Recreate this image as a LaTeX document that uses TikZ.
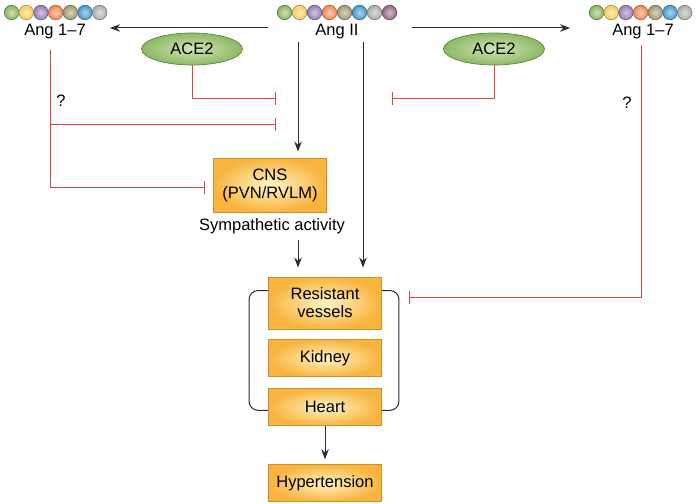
\documentclass[tikz,border=0pt]{standalone}
\usepackage{fontspec}
\setmainfont{Liberation Sans}
\usetikzlibrary{positioning,shapes.geometric,arrows.meta}
\definecolor{bGreen}{HTML}{86B55A}
\definecolor{bYellow}{HTML}{F5CC5C}
\definecolor{bPurple}{HTML}{937DB5}
\definecolor{bOrange}{HTML}{EE8650}
\definecolor{bTan}{HTML}{A39670}
\definecolor{bBlue}{HTML}{4696CB}
\definecolor{bGray}{HTML}{ABABAB}
\definecolor{bMauve}{HTML}{946686}
\definecolor{inhred}{HTML}{E2424B}
\definecolor{boxin}{HTML}{FFF4C4}
\definecolor{boxout}{HTML}{F8B43E}
\definecolor{boxedge}{HTML}{C8912F}
\definecolor{enzin}{HTML}{D2E5B6}
\definecolor{enzout}{HTML}{8CB864}
\definecolor{enzedge}{HTML}{5A8939}
\definecolor{lineclr}{HTML}{2B2B2B}
\tikzset{
	bead/.style={circle, inner sep=0pt, minimum size=14.6pt, line width=0.5pt},
	organ/.style={draw=boxedge, line width=0.9pt, inner color=boxin, outer color=boxout, minimum width=113pt, align=center},
	enzyme/.style={ellipse, draw=enzedge, line width=0.7pt, inner color=enzin, outer color=enzout, minimum width=101pt, minimum height=32pt},
	act/.style={draw=lineclr, line width=1pt, -{Stealth[length=10pt,width=7.5pt]}},
	inh/.style={draw=inhred, line width=1pt, -{Bar[width=13pt]}},
	sideloop/.style={draw=lineclr, line width=1pt, rounded corners=9pt},
}

\begin{document}
\begin{tikzpicture}[x=1pt, y=-1pt, font=\fontsize{16.5}{18}\selectfont]
	\useasboundingbox (0,0) rectangle (700,503);
	
	\foreach \c [count=\i from 0] in {bGreen,bYellow,bPurple,bOrange,bTan,bBlue,bGray}
		\node[bead, inner color=\c!40!white, outer color=\c, draw=\c!65!black] (l\i) at (11.5+14.7*\i,12.5) {};
	\foreach \c [count=\i from 0] in {bGreen,bYellow,bPurple,bOrange,bTan,bBlue,bGray,bMauve}
		\node[bead, inner color=\c!40!white, outer color=\c, draw=\c!65!black] (m\i) at (284.5+15*\i,12.5) {};
	\foreach \c [count=\i from 0] in {bGreen,bYellow,bPurple,bOrange,bTan,bBlue,bGray}
		\node[bead, inner color=\c!40!white, outer color=\c, draw=\c!65!black] (r\i) at (596.5+14.7*\i,12.5) {};
	
	\node (angL) at (55,32) {Ang 1–7};
	\node (angII) at (337,32) {Ang II};
	\node (angR) at (643,32) {Ang 1–7};
	
	\node[enzyme] (aceL) at (192,49) {ACE2};
	\node[enzyme] (aceR) at (494,49) {ACE2};
	
	\node[organ, minimum height=54pt] (cns) at (270,185) {CNS\\(PVN/RVLM)};
	\node (symp) at (272,226) {Sympathetic activity};
	\node[organ, minimum height=52pt] (rv) at (325,303) {Resistant\\vessels};
	\node[organ, minimum height=37pt, below=10pt of rv] (kid) {Kidney};
	\node[organ, minimum height=37pt, below=11pt of kid] (heart) {Heart};
	\node[organ, minimum height=37pt, below=38pt of heart] (hyp) {Hypertension};
	
	\node (qL) at (61,101) {?};
	\node (qR) at (627,103) {?};
	
	\coordinate (fromL) at (268,28);
	\coordinate (toL) at (110,28);
	\coordinate (fromR) at (412,28);
	\coordinate (toR) at (570,28);
	\coordinate (stemA) at (298,42);
	\coordinate (stemB) at (363,42);
	\coordinate (stemS) at (298,240);
	\coordinate (barA) at (276,98);
	\coordinate (barB) at (276,124);
	\coordinate (barC) at (392,98);
	\coordinate (ctlL) at (50,50);
	\coordinate (forkL) at (50,124);
	\coordinate (ctlR) at (641,45);
	\coordinate (barD) at (409,297);
	
	\draw[act] (fromL) -- (toL);
	\draw[act] (fromR) -- (toR);
	\draw[act, shorten >=6pt] (stemA) -- (stemA |- cns.north);
	\draw[act, shorten >=9pt] (stemB) -- (stemB |- rv.north);
	\draw[act, shorten >=9pt] (stemS) -- (stemS |- rv.north);
	\draw[act, shorten >=5pt] (heart) -- (hyp);
	
	\draw[inh] (aceL.south) |- (barA);
	\draw[inh] (aceR.south) |- (barC);
	\draw[inh, shorten >=8pt] (ctlL) |- ([yshift=-2pt]cns.west);
	\draw[inh] (forkL) -- (barB);
	\draw[inh] (ctlR) |- (barD);
	
	\draw[sideloop] ([yshift=-14pt]rv.north west) -- ++(-19,0) |- ([yshift=-3pt]heart.west);
	\draw[sideloop] ([yshift=-14pt]rv.north east) -- ++(17,0) |- ([yshift=-3pt]heart.east);
\end{tikzpicture}
\end{document}
